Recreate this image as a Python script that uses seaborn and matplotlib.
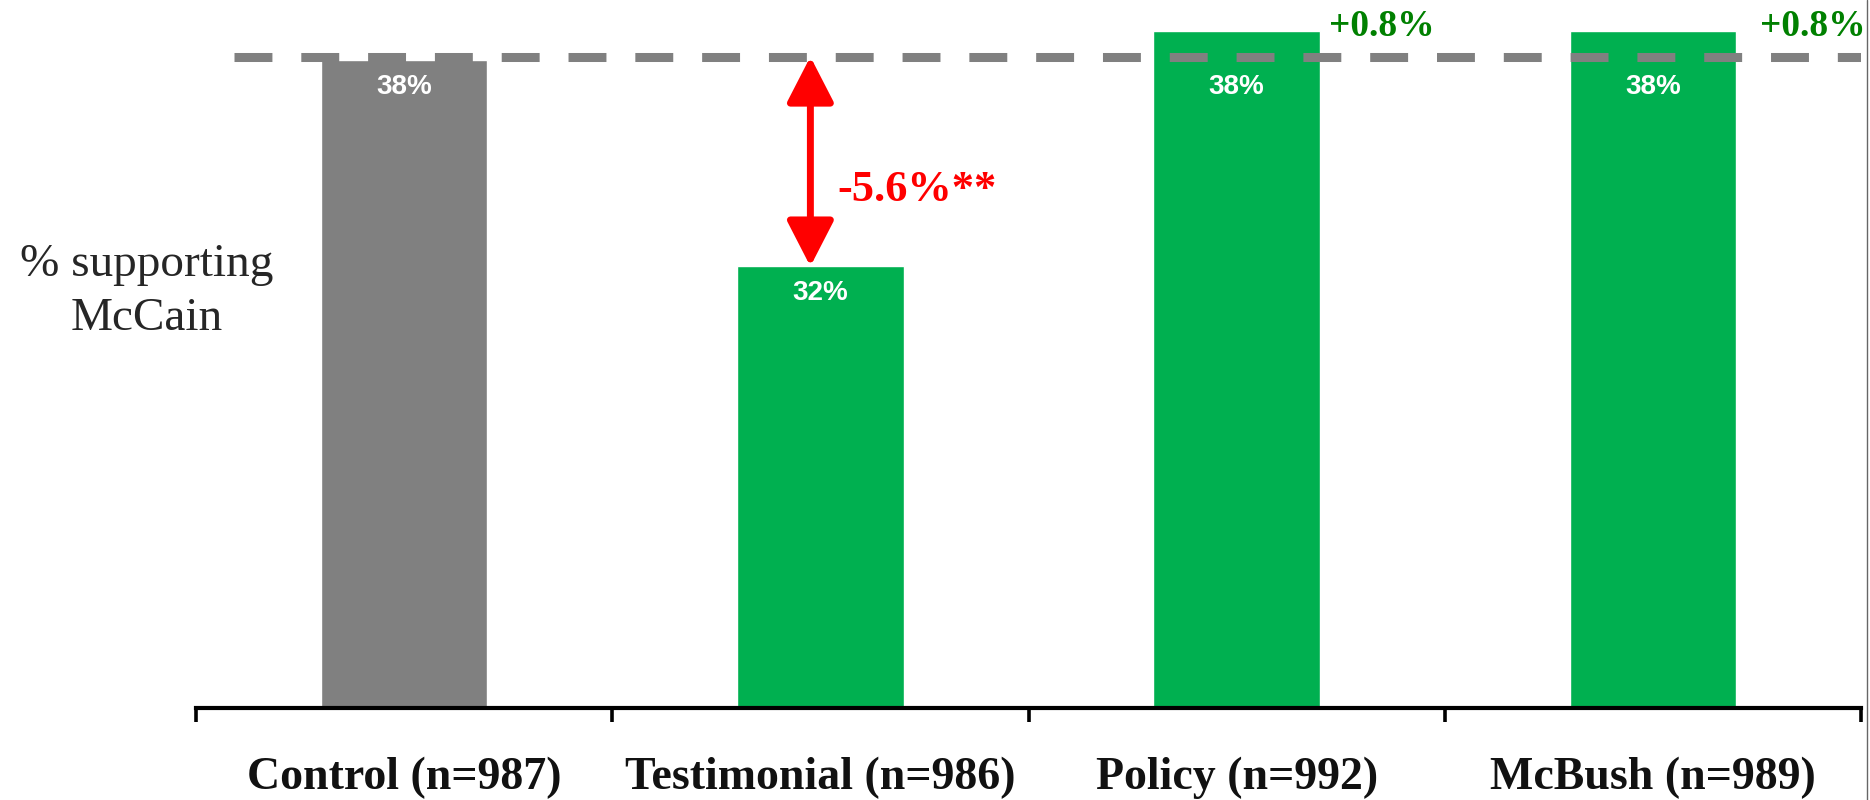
import matplotlib
matplotlib.use("Agg")
import matplotlib.pyplot as plt
from matplotlib.lines import Line2D
import pandas as pd
import seaborn as sns

# Experiment arms and share of respondents supporting McCain (%)
groups = ["Control (n=987)", "Testimonial (n=986)", "Policy (n=992)", "McBush (n=989)"]
support = [37.6, 32.0, 38.4, 38.4]
bar_labels = ["38%", "32%", "38%", "38%"]
effect_labels = ["", "-5.6%**", "+0.8%", "+0.8%"]
bar_colors = ["#808080", "#00B050", "#00B050", "#00B050"]

sns.set_style("white")
plt.rcParams["font.family"] = ["Liberation Serif", "DejaVu Serif"]

W, H = 1870, 800
fig = plt.figure(figsize=(W / 100, H / 100), dpi=100)
ax = fig.add_axes([196 / W, 1 - 708 / H, 1665 / W, 708 / H])

df = pd.DataFrame({"group": groups, "support": support})
sns.barplot(data=df, x="group", y="support", hue="group", palette=bar_colors,
            width=0.4, saturation=1, legend=False, ax=ax, zorder=2)

ax.set_xlim(-0.5, len(groups) - 0.5)
ax.set_ylim(20, 39.24)
ax.set_xlabel("")
ax.set_ylabel("")
ax.set_yticks([])
for side in ("left", "top", "right"):
    ax.spines[side].set_visible(False)
ax.spines["bottom"].set_linewidth(3)
ax.spines["bottom"].set_color("black")

# category labels centred under bars, tick marks between categories
ax.set_xticks(range(len(groups)))
ax.set_xticklabels(groups, fontsize=33, fontweight="bold",
                   family="Liberation Serif", color="#111111")
ax.tick_params(axis="x", which="major", bottom=True, length=0, pad=35)
ax.set_xticks([i - 0.5 for i in range(len(groups) + 1)], minor=True)
ax.tick_params(axis="x", which="minor", bottom=True, length=10, width=2.6,
               direction="out", color="black")

# reference line sitting on top of the control bar
ref_level = support[0] + 0.1
ax.axhline(ref_level, xmin=0.023, xmax=1, color="#808080", lw=6.5,
           dashes=(4.2, 3.2), zorder=3)

# value labels inside the bars, kept just below the reference line
for i, (v, lab) in enumerate(zip(support, bar_labels)):
    ax.annotate(lab, (i, min(v, support[0])), xytext=(0, -14),
                textcoords="offset pixels", ha="center", va="top",
                color="white", fontsize=20, fontweight="bold",
                family="Liberation Sans", zorder=4)

# difference arrow for the testimonial arm
ax_x = 1 - 0.024
ax.annotate("", xy=(ax_x, support[1]), xytext=(ax_x, ref_level),
            arrowprops=dict(arrowstyle="<|-|>,head_length=1.4,head_width=0.72",
                            mutation_scale=20, color="red", lw=5,
                            shrinkA=0, shrinkB=0), zorder=5)
ax.annotate(effect_labels[1], xy=(ax_x, (support[0] + support[1]) / 2),
            xytext=(27, -27), textcoords="offset pixels", ha="left",
            va="center", color="red", fontsize=32, fontweight="bold",
            family="Liberation Serif")

# small positive differences beside the other treatment bars
for i, dx in ((2, 9), (3, 24)):
    ax.annotate(effect_labels[i], xy=(i + 0.2, support[i]),
                xytext=(dx, 4), textcoords="offset pixels", ha="left",
                va="center", color="#008000", fontsize=27, fontweight="bold",
                family="Liberation Serif")

fig.text(147 / W, 1 - 292 / H, "% supporting\nMcCain", ha="center",
         va="center", fontsize=34, family="Liberation Serif",
         linespacing=1.35, multialignment="center")

fig.add_artist(Line2D([1866.5 / W] * 2, [0, 1], color="#666666", lw=1))

fig.savefig("out.png", dpi=100, facecolor="white")
